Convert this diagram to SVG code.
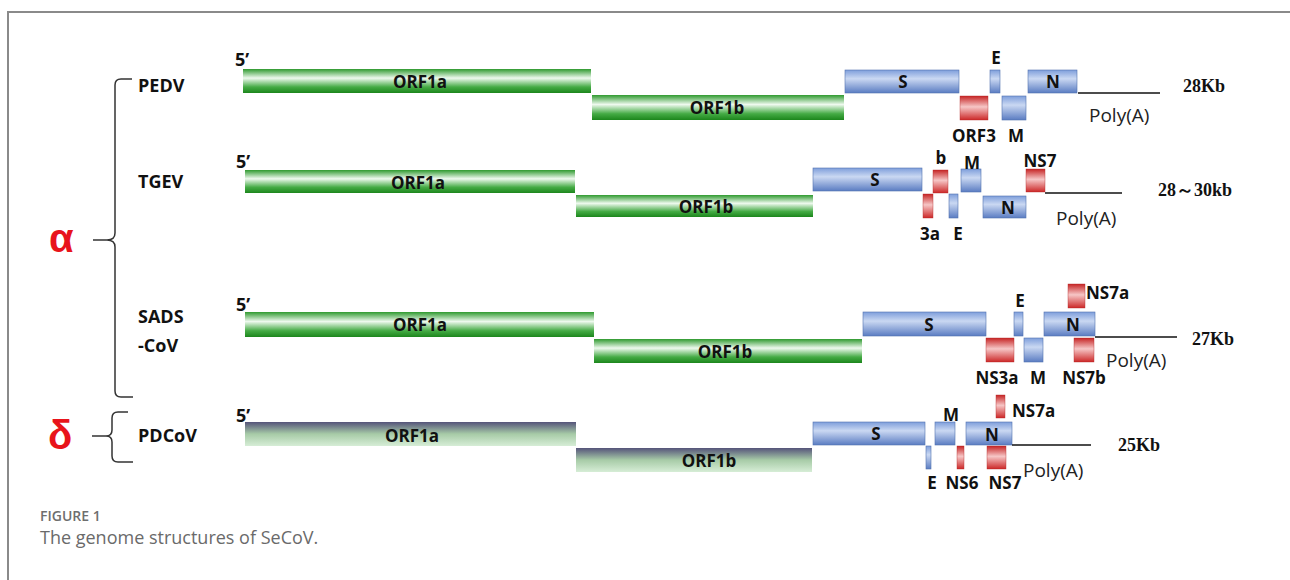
<svg xmlns="http://www.w3.org/2000/svg" width="1290" height="580" viewBox="0 0 1290 580">
<style>
.lbl{font-family:"Open Sans","Liberation Sans",sans-serif;font-weight:700;font-size:18px;fill:#111}
.bl{font-family:"Open Sans","Liberation Sans",sans-serif;font-weight:700;font-size:17px;fill:#111;text-anchor:middle}
.sp{font-family:"Open Sans","Liberation Sans",sans-serif;font-weight:700;font-size:18px;fill:#111}
.poly{font-family:"Open Sans","Liberation Sans",sans-serif;font-size:19px;fill:#222}
.kb{font-family:"Liberation Serif",serif;font-weight:700;font-size:18px;fill:#111}
.gr{font-family:"Liberation Sans",sans-serif;font-weight:700;font-size:40px;fill:#e8141b}
.g{fill:url(#gGreen)}
.s{fill:url(#gSlate)}
.b{fill:url(#gBlue);stroke:#5372b0;stroke-width:0.6}
.r{fill:url(#gRed);stroke:#b52a2a;stroke-width:0.4}
.ln{stroke:#111;stroke-width:1.6;fill:none}
.br{stroke:#333;stroke-width:1.5;fill:none}
.cap1{font-family:"Open Sans","Liberation Sans",sans-serif;font-weight:600;font-size:14px;fill:#6e6e6e}
.cap2{font-family:"Open Sans","Liberation Sans",sans-serif;font-size:18px;fill:#6a6a6a}
</style>
<defs>
<linearGradient id="gGreen" x1="0" y1="0" x2="0" y2="1">
<stop offset="0" stop-color="#2f9a2f"/><stop offset="0.38" stop-color="#eef9ee"/><stop offset="0.75" stop-color="#45ab45"/><stop offset="1" stop-color="#1c861c"/>
</linearGradient>
<linearGradient id="gSlate" x1="0" y1="0" x2="0" y2="1">
<stop offset="0" stop-color="#55547a"/><stop offset="0.5" stop-color="#a7cba7"/><stop offset="1" stop-color="#d6edd6"/>
</linearGradient>
<linearGradient id="gBlue" x1="0" y1="0" x2="0" y2="1">
<stop offset="0" stop-color="#7e9edb"/><stop offset="0.38" stop-color="#cad8f2"/><stop offset="1" stop-color="#5a7cc2"/>
</linearGradient>
<linearGradient id="gRed" x1="0" y1="0" x2="0" y2="1">
<stop offset="0" stop-color="#c62424"/><stop offset="0.45" stop-color="#f6c6c6"/><stop offset="1" stop-color="#cc2828"/>
</linearGradient>
</defs>
<rect width="1290" height="580" fill="#fff"/>
<path d="M8,580 V12 H1290" stroke="#8a8a8a" stroke-width="2" fill="none"/>

<g id="alpha">
<text class="gr" x="49" y="252">α</text>
<path class="br" d="M132,79 H121 Q115,79 115,85 V233 Q115,240 107,240 H93 M107,240 Q115,240 115,247 V391 Q115,397 121,397 H133"/>
</g>
<g id="delta">
<text class="gr" x="48" y="449">δ</text>
<path class="br" d="M128,412 H118 Q112,412 112,418 V430 Q112,436 106,436 H92 M106,436 Q112,436 112,442 V456 Q112,462 118,462 H133"/>
</g>

<g id="PEDV">
<text class="sp" x="138" y="92">PEDV</text>
<text class="lbl" x="235" y="66">5’</text>
<rect class="g" x="243" y="69" width="348" height="24"/>
<text class="bl" x="420" y="88">ORF1a</text>
<rect class="g" x="592" y="95" width="252" height="25"/>
<text class="bl" x="717" y="114">ORF1b</text>
<rect class="b" x="845" y="70" width="114" height="23"/>
<text class="bl" x="903" y="88">S</text>
<rect class="r" x="960" y="96" width="28" height="24"/>
<text class="bl" x="974" y="142">ORF3</text>
<rect class="b" x="990" y="70" width="10" height="23"/>
<text class="bl" x="996" y="64">E</text>
<rect class="b" x="1002" y="96" width="24" height="24"/>
<text class="bl" x="1016" y="142">M</text>
<rect class="b" x="1028" y="70" width="49" height="23"/>
<text class="bl" x="1053" y="88">N</text>
<line class="ln" x1="1078" y1="93" x2="1160" y2="93"/>
<text class="poly" x="1089" y="122">Poly(A)</text>
<text class="kb" x="1183" y="92">28Kb</text>
</g>

<g id="TGEV">
<text class="sp" x="138" y="188">TGEV</text>
<text class="lbl" x="236" y="168">5’</text>
<rect class="g" x="245" y="170" width="330" height="23"/>
<text class="bl" x="418" y="189">ORF1a</text>
<rect class="g" x="576" y="195" width="237" height="22"/>
<text class="bl" x="706" y="213">ORF1b</text>
<rect class="b" x="813" y="168" width="109" height="23"/>
<text class="bl" x="875" y="186">S</text>
<rect class="r" x="923" y="194" width="10" height="24"/>
<text class="bl" x="930" y="240">3a</text>
<rect class="r" x="933" y="170" width="15" height="23"/>
<text class="bl" x="941" y="164">b</text>
<rect class="b" x="949" y="194" width="9" height="24"/>
<text class="bl" x="958" y="240">E</text>
<rect class="b" x="961" y="169" width="20" height="23"/>
<text class="bl" x="972" y="169">M</text>
<rect class="b" x="983" y="196" width="43" height="22"/>
<text class="bl" x="1008" y="214">N</text>
<rect class="r" x="1026" y="169" width="19" height="23"/>
<text class="bl" x="1040" y="167">NS7</text>
<line class="ln" x1="1045" y1="193" x2="1122" y2="193"/>
<text class="poly" x="1056" y="225">Poly(A)</text>
<text class="kb" x="1158" y="196">28～30kb</text>
</g>

<g id="SADS-CoV">
<text class="sp" x="138" y="323">SADS</text>
<text class="sp" x="138" y="352">-CoV</text>
<text class="lbl" x="236" y="311">5’</text>
<rect class="g" x="245" y="312" width="349" height="25"/>
<text class="bl" x="420" y="331">ORF1a</text>
<rect class="g" x="594" y="339" width="268" height="24"/>
<text class="bl" x="725" y="358">ORF1b</text>
<rect class="b" x="863" y="312" width="123" height="24"/>
<text class="bl" x="929" y="331">S</text>
<rect class="r" x="986" y="338" width="28" height="24"/>
<text class="bl" x="997" y="384">NS3a</text>
<rect class="b" x="1014" y="312" width="9" height="24"/>
<text class="bl" x="1020" y="307">E</text>
<rect class="b" x="1024" y="338" width="19" height="24"/>
<text class="bl" x="1038" y="384">M</text>
<rect class="b" x="1044" y="312" width="51" height="24"/>
<text class="bl" x="1073" y="331">N</text>
<rect class="r" x="1068" y="284" width="17" height="24"/>
<text class="lbl" x="1086" y="299" style="font-size:17px">NS7a</text>
<rect class="r" x="1074" y="338" width="20" height="24"/>
<text class="bl" x="1084" y="384">NS7b</text>
<line class="ln" x1="1095" y1="337" x2="1177" y2="337"/>
<text class="poly" x="1106" y="367">Poly(A)</text>
<text class="kb" x="1192" y="345">27Kb</text>
</g>

<g id="PDCoV">
<text class="sp" x="138" y="442">PDCoV</text>
<text class="lbl" x="236" y="422">5’</text>
<rect class="s" x="245" y="422" width="331" height="24"/>
<text class="bl" x="412" y="442">ORF1a</text>
<rect class="s" x="576" y="448" width="236" height="24"/>
<text class="bl" x="709" y="467">ORF1b</text>
<rect class="b" x="813" y="422" width="112" height="23"/>
<text class="bl" x="876" y="440">S</text>
<rect class="b" x="926" y="446" width="5" height="23"/>
<text class="bl" x="932" y="489">E</text>
<rect class="b" x="935" y="422" width="20" height="23"/>
<text class="bl" x="951" y="421">M</text>
<rect class="r" x="957" y="446" width="7" height="23"/>
<text class="bl" x="962" y="489">NS6</text>
<rect class="b" x="966" y="422" width="46" height="23"/>
<text class="bl" x="992" y="441">N</text>
<rect class="r" x="996" y="395" width="9" height="23"/>
<text class="lbl" x="1012" y="417" style="font-size:17px">NS7a</text>
<rect class="r" x="987" y="446" width="19" height="23"/>
<text class="bl" x="1005" y="489">NS7</text>
<line class="ln" x1="1012" y1="445" x2="1091" y2="445"/>
<text class="poly" x="1023" y="477">Poly(A)</text>
<text class="kb" x="1118" y="451">25Kb</text>
</g>

<g id="caption">
<text class="cap1" x="40" y="521">FIGURE 1</text>
<text class="cap2" x="40" y="544">The genome structures of SeCoV.</text>
</g>
</svg>
